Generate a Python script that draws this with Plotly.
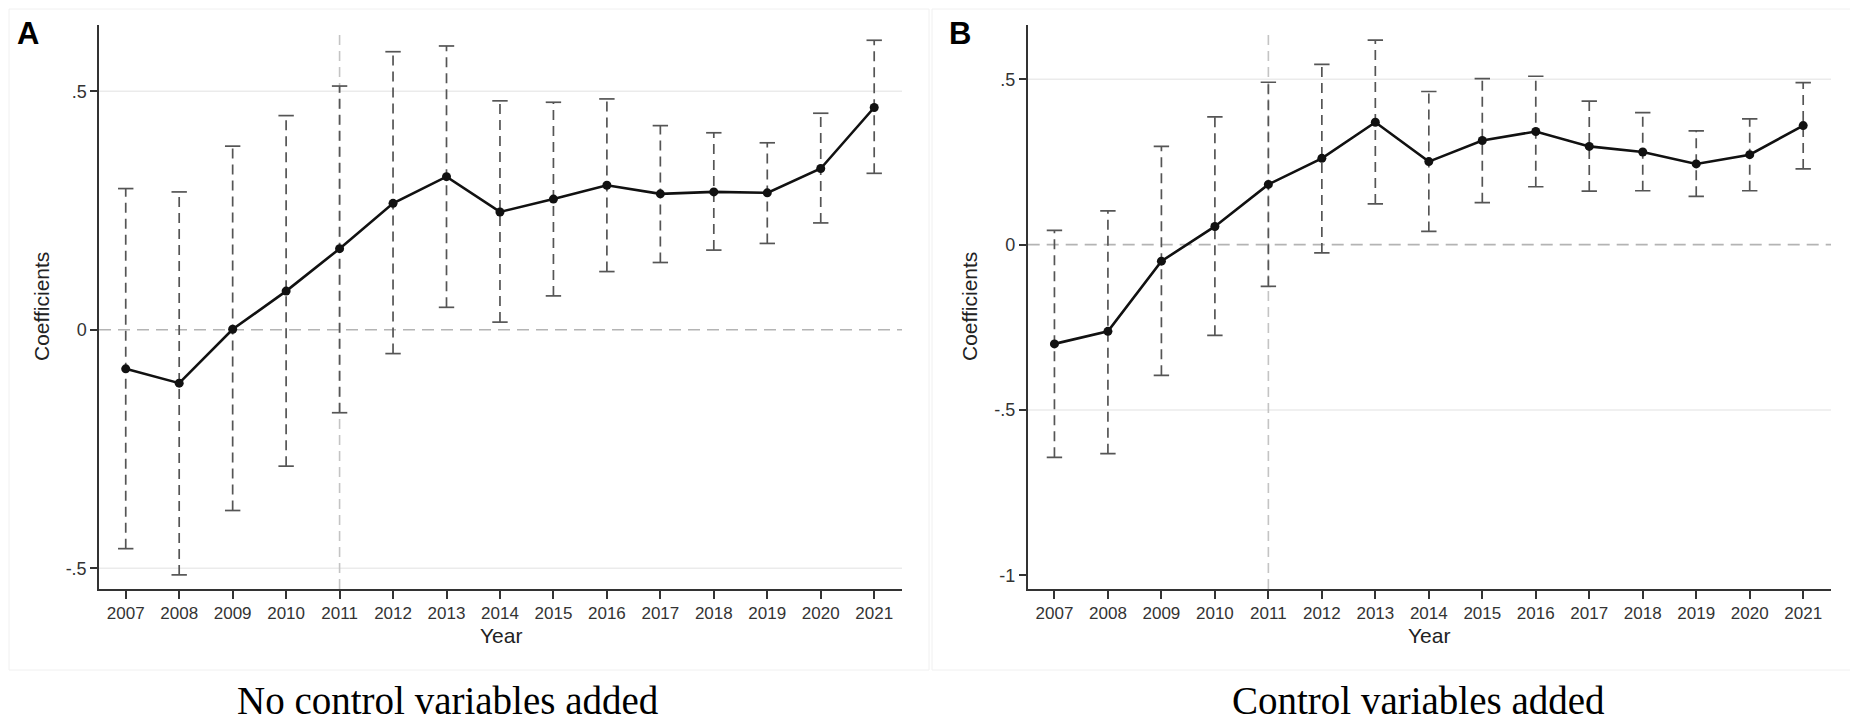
import plotly.graph_objects as go

W, H = 1858, 717
OFF = 8  # browser body margin: the figure is drawn 8px in from the top-left corner

# --- data ---
years = list(range(2007, 2022))
event_year = 2011

# panel A: no control variables
coef_a = [-0.082, -0.112, 0.001, 0.081, 0.170, 0.265, 0.321, 0.247, 0.274, 0.303, 0.285, 0.289, 0.287, 0.338, 0.466]
upper_a = [0.296, 0.289, 0.385, 0.449, 0.511, 0.583, 0.595, 0.480, 0.477, 0.484, 0.428, 0.413, 0.392, 0.454, 0.607]
lower_a = [-0.459, -0.514, -0.379, -0.286, -0.174, -0.050, 0.047, 0.016, 0.071, 0.122, 0.141, 0.167, 0.181, 0.224, 0.328]

# panel B: control variables added
coef_b = [-0.300, -0.262, -0.050, 0.055, 0.182, 0.261, 0.370, 0.251, 0.315, 0.342, 0.297, 0.280, 0.244, 0.272, 0.360]
upper_b = [0.043, 0.102, 0.297, 0.386, 0.491, 0.545, 0.618, 0.463, 0.502, 0.509, 0.434, 0.399, 0.344, 0.380, 0.490]
lower_b = [-0.643, -0.632, -0.395, -0.274, -0.126, -0.025, 0.123, 0.040, 0.127, 0.175, 0.162, 0.163, 0.146, 0.163, 0.229]

yticks_a = [-0.5, 0, 0.5]
ytick_text_a = ['-.5', '0', '.5']
yticks_b = [-1, -0.5, 0, 0.5]
ytick_text_b = ['-1', '-.5', '0', '.5']
grid_a = [-0.5, 0.5]
grid_b = [-0.5, 0.5]

captions = ['No control variables added', 'Control variables added']
letters = ['A', 'B']

# --- styling ---
SANS = 'Liberation Sans, Arial, sans-serif'
SERIF = 'Liberation Serif, Times New Roman, serif'
AXIS = '#333333'
CI = '#555555'

FW, FH = W - OFF, H - OFF


def fx(p):
    # reference pixel -> paper fraction
    return (p - OFF) / FW


def fy(p):
    return 1 - (p - OFF) / FH


fig = go.Figure()

panels = [
    dict(coef=coef_a, up=upper_a, lo=lower_a, ticks=yticks_a, text=ytick_text_a, grid=grid_a,
         x0=99, x1=902, yr=[-0.5436, 0.639], ytitle_x=41, letter_xy=(28, 34), cap_x=448),
    dict(coef=coef_b, up=upper_b, lo=lower_b, ticks=yticks_b, text=ytick_text_b, grid=grid_b,
         x0=1027.7, x1=1831, yr=[-1.041, 0.664], ytitle_x=969, letter_xy=(960, 34), cap_x=1418),
]

plot_top, plot_bot = 25, 589
shapes = []
annotations = []

for i, p in enumerate(panels):
    n = '' if i == 0 else str(i + 1)
    xr, yr_ = 'x' + n, 'y' + n

    # CI whiskers (dashed)
    ci_x, ci_y = [], []
    for yr, lo, hi in zip(years, p['lo'], p['up']):
        ci_x += [yr, yr, None]
        ci_y += [lo, hi, None]
    fig.add_trace(go.Scatter(x=ci_x, y=ci_y, mode='lines', xaxis=xr, yaxis=yr_,
                             line=dict(color=CI, width=1.7, dash='10px,6px'),
                             hoverinfo='skip', showlegend=False))
    # caps
    fig.add_trace(go.Scatter(x=years + years, y=p['up'] + p['lo'], mode='markers',
                             xaxis=xr, yaxis=yr_,
                             marker=dict(symbol='line-ew', size=11, color=CI,
                                         line=dict(color=CI, width=1.7)),
                             hoverinfo='skip', showlegend=False))
    # point estimates
    fig.add_trace(go.Scatter(x=years, y=p['coef'], mode='lines+markers', xaxis=xr, yaxis=yr_,
                             line=dict(color='#111111', width=2.6),
                             marker=dict(color='#111111', size=9),
                             showlegend=False))

    # gridlines, zero line, event line
    for g in p['grid']:
        shapes.append(dict(type='line', xref=xr + ' domain', yref=yr_, x0=0, x1=1, y0=g, y1=g,
                           line=dict(color='#ebebeb', width=1.5), layer='below'))
    shapes.append(dict(type='line', xref=xr + ' domain', yref=yr_, x0=0, x1=1, y0=0, y1=0,
                       line=dict(color='#b4b4b4', width=1.6, dash='12px,7px'), layer='below'))
    shapes.append(dict(type='line', xref=xr, yref=yr_ + ' domain', x0=event_year, x1=event_year,
                       y0=0, y1=0.99, line=dict(color='#c4c4c4', width=1.6, dash='10px,6px'),
                       layer='below'))

    xaxis = dict(domain=[fx(p['x0']), fx(p['x1'])], anchor=yr_, range=[2006.5, 2021.52],
                 tickvals=years, ticktext=[str(y) for y in years],
                 showline=True, linecolor=AXIS, linewidth=1.5, ticks='outside', ticklen=8,
                 tickwidth=1.5, tickcolor=AXIS, showgrid=False, zeroline=False,
                 tickfont=dict(family=SANS, size=17, color=AXIS))
    yaxis = dict(domain=[fy(plot_bot), fy(plot_top)], anchor=xr, range=p['yr'],
                 tickvals=p['ticks'], ticktext=p['text'],
                 showline=True, linecolor=AXIS, linewidth=1.5, ticks='outside', ticklen=7,
                 tickwidth=1.5, tickcolor=AXIS, showgrid=False, zeroline=False,
                 tickfont=dict(family=SANS, size=18, color=AXIS))
    fig.update_layout({'xaxis' + n: xaxis, 'yaxis' + n: yaxis})

    # axis titles
    annotations.append(dict(text='Year', xref='paper', yref='paper',
                            x=fx((p['x0'] + p['x1']) / 2), y=fy(635), xanchor='center', yanchor='middle',
                            showarrow=False, font=dict(family=SANS, size=21, color='#222222')))
    annotations.append(dict(text='Coefficients', xref='paper', yref='paper', textangle=-90,
                            x=fx(p['ytitle_x']), y=fy((plot_top + plot_bot) / 2),
                            xanchor='center', yanchor='middle', showarrow=False,
                            font=dict(family=SANS, size=21, color='#222222')))
    # panel letter
    lx, ly = p['letter_xy']
    annotations.append(dict(text='<b>%s</b>' % letters[i], xref='paper', yref='paper',
                            x=fx(lx), y=fy(ly), xanchor='center', yanchor='middle', showarrow=False,
                            font=dict(family=SANS, size=31, color='#000000')))
    # caption
    annotations.append(dict(text=captions[i], xref='paper', yref='paper',
                            x=fx(p['cap_x']), y=fy(700), xanchor='center', yanchor='middle',
                            showarrow=False, font=dict(family=SERIF, size=39, color='#000000')))

# faint frames around each panel
shapes.append(dict(type='rect', xref='paper', yref='paper', x0=fx(9), x1=fx(929), y0=fy(670), y1=fy(9),
                   line=dict(color='#f0f0f0', width=1), layer='below'))
shapes.append(dict(type='rect', xref='paper', yref='paper', x0=fx(932), x1=fx(1856), y0=fy(670), y1=fy(9),
                   line=dict(color='#f0f0f0', width=1), layer='below'))

fig.update_layout(
    width=FW, height=FH, autosize=False,
    margin=dict(l=0, r=0, t=0, b=0),
    paper_bgcolor='white', plot_bgcolor='white',
    showlegend=False,
    shapes=shapes, annotations=annotations,
)

fig.write_html("out.html")
